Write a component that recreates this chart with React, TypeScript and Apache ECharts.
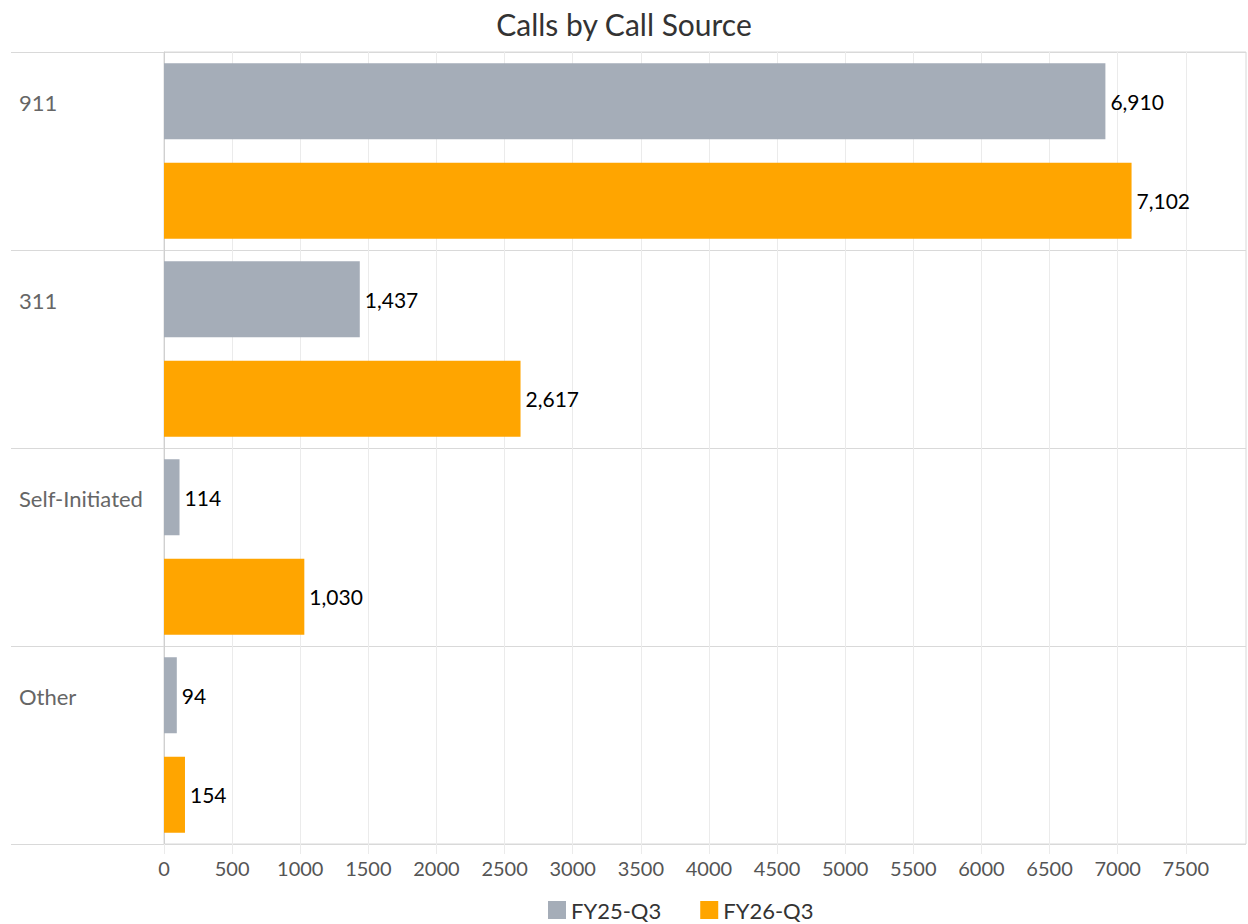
import React, { useEffect, useRef } from "react";
import * as echarts from "echarts";

const categories = ["911", "311", "Self-Initiated", "Other"];
const fy25 = [6910, 1437, 114, 94];
const fy26 = [7102, 2617, 1030, 154];
const seriesNames = ["FY25-Q3", "FY26-Q3"];
const titleText = "Calls by Call Source";

const FONT = "Lato, 'Open Sans', sans-serif";

export default function App() {
  const ref = useRef<HTMLDivElement>(null);
  useEffect(() => {
    if (!ref.current) return;
    const chart = echarts.init(ref.current, undefined, { renderer: "svg" });
    const fmt = (p: any) => Number(p.value).toLocaleString("en-US");
    const barLabel = {
      show: true,
      position: "right",
      distance: 5,
      formatter: fmt,
      fontFamily: FONT,
      fontSize: 21,
      color: "#000000",
    };
    chart.setOption({
      animation: false,
      backgroundColor: "#ffffff",
      textStyle: { fontFamily: FONT },
      title: {
        text: titleText,
        left: "center",
        top: 4,
        textStyle: { fontFamily: FONT, fontSize: 30, fontWeight: "normal", color: "#333333" },
      },
      legend: {
        data: seriesNames,
        left: 548,
        top: 899,
        padding: 0,
        itemWidth: 18,
        itemHeight: 18,
        itemGap: 39,
        icon: "rect",
        textStyle: { fontFamily: FONT, fontSize: 22, lineHeight: 22, color: "#333333" },
      },
      grid: {
        left: 164,
        right: 2,
        top: 52,
        bottom: 80,
        show: true,
        borderColor: "#d9d9d9",
        borderWidth: 1,
        containLabel: false,
      },
      xAxis: {
        type: "value",
        min: 0,
        max: 7942,
        interval: 500,
        axisLine: { show: false },
        axisTick: { show: true, length: 10, lineStyle: { color: "#ebebeb" } },
        splitLine: { show: true, lineStyle: { color: "#ebebeb" } },
        axisLabel: {
          showMaxLabel: false,
          margin: 14,
          formatter: (v: number) => String(v),
          fontFamily: FONT,
          fontSize: 20,
          color: "#555555",
        },
      },
      yAxis: {
        type: "category",
        data: categories,
        inverse: true,
        axisLine: { show: true, lineStyle: { color: "#d0d0d0" } },
        axisTick: { show: true, length: 153, lineStyle: { color: "#d9d9d9" } },
        splitLine: { show: true, lineStyle: { color: "#d9d9d9" } },
        axisLabel: {
          align: "left",
          margin: 145,
          verticalAlign: "middle",
          formatter: (v: string) => `{a|${v}}\n{b| }`,
          rich: {
            a: { fontFamily: FONT, fontSize: 22, lineHeight: 26, color: "#666666", align: "left" },
            b: { fontSize: 10, lineHeight: 98, align: "left" },
          },
          fontFamily: FONT,
          fontSize: 22,
          color: "#666666",
        },
      },
      series: [
        {
          name: seriesNames[0],
          type: "bar",
          data: fy25,
          barWidth: 76,
          barGap: "31%",
          itemStyle: { color: "#a5adb8" },
          label: barLabel,
        },
        {
          name: seriesNames[1],
          type: "bar",
          data: fy26,
          barWidth: 76,
          barGap: "31%",
          itemStyle: { color: "#ffa500" },
          label: barLabel,
        },
      ],
    });
    return () => chart.dispose();
  }, []);
  return (
    <div
      ref={ref}
      style={{ position: "fixed", left: 0, top: 0, width: 1248, height: 924 }}
    />
  );
}
